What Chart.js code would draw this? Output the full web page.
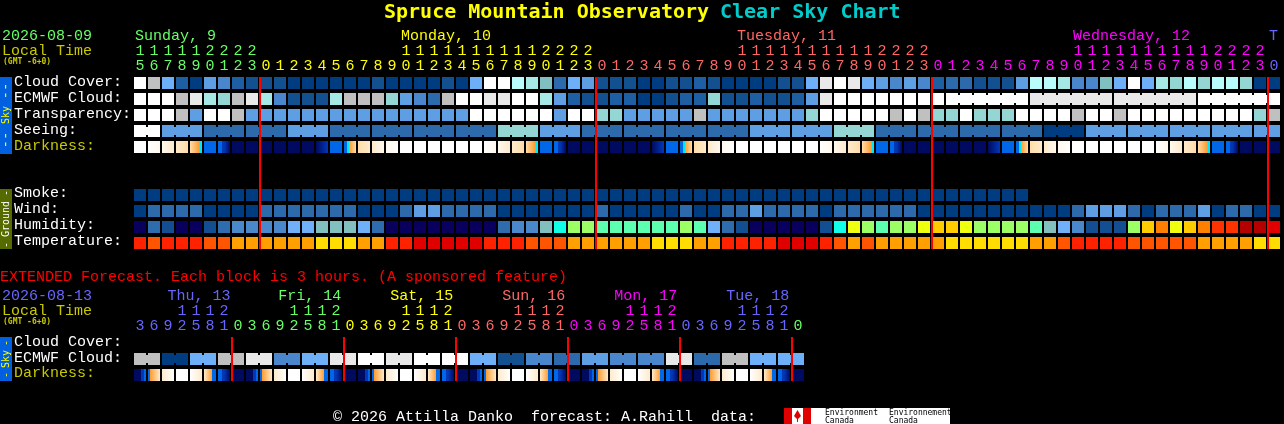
<!DOCTYPE html>
<html>
<head>
<meta charset="utf-8">
<title>Spruce Mountain Observatory Clear Sky Chart</title>
<style>
  html, body { margin: 0; padding: 0; background: #000; overflow: hidden; }
  canvas { display: block; }
</style>
<script src="https://cdn.jsdelivr.net/npm/chart.js@4"></script>
</head>
<body>
<canvas id="csk" width="1284" height="424"></canvas>
<script>
// hourly forecast, first column is 15:00 on the 9th
const tensRow = ["1","1","1","1","1","2","2","2","2","","","","","","","","","","","1","1","1","1","1","1","1","1","1","1","2","2","2","2","","","","","","","","","","","1","1","1","1","1","1","1","1","1","1","2","2","2","2","","","","","","","","","","","1","1","1","1","1","1","1","1","1","1","2","2","2","2",""];
const unitsRow = ["5","6","7","8","9","0","1","2","3","0","1","2","3","4","5","6","7","8","9","0","1","2","3","4","5","6","7","8","9","0","1","2","3","0","1","2","3","4","5","6","7","8","9","0","1","2","3","4","5","6","7","8","9","0","1","2","3","0","1","2","3","4","5","6","7","8","9","0","1","2","3","4","5","6","7","8","9","0","1","2","3","0"];
const dayStarts = [0, 9, 33, 57, 81];
const dayColors = ["#66ff66", "#ffff00", "#ff6666", "#ff00ff", "#6666ff"];
const dayNames = ["Sunday, 9", "Monday, 10", "Tuesday, 11", "Wednesday, 12", "T"];
const dayLabelCols = [0, 19, 43, 67, 81];

const cloudCover = [13,11,6,2,0,5,4,2,1, 1,1,0,0,0,0,0,0,1,0,0,0, 0,1,0,6,13,13,10,9,7,3,6,5, 1,1,1,0,0,1,1,2,1,0,0,0,0,1,1, 6,12,13,12, 6,5,4,5,4,2,3,3,1,1,1,5,10,10,9,4,4,7,6,13,6,9,8,10,8,10,10,8,0,0];
const ecmwfCloud = [13,13,13,11,12,9,8,11,12, 9,4,1,1,1,9,11,11,11,8,5,4, 3,11,13,13,12,12,13,13,9,5,2,1, 1,2,2,0,0,1,2,2,8,1,1,2,1,1,2, 5,12,13,13, 13,13,13,13,13,13, 13,13,13,13,13,13, 12,12,12,12,12,12, 12,12,12,12,12,12, 13,13,13,13,13,13];
const transparency = [13,13,13,11,5,13,13,11,5, 5,5,5,5,5,5,5,5,5,5,5,5, 5,5,5,13,13,13,13,13,13,5,13,13, 8,8,5,5,5,5,5,11,5,5,5,5,5,5,5, 8,13,13,13, 13,13,11,13,11,8,8,13,8,8,8,13,13,13,13,11,13,13,11,13,13,13,13,13,13,13,13,13,8,11];
const seeing = [13,13, 5,5,5, 3,3,3, 3,3,3, 5,5,5, 3,3,3, 3,3,3, 3,3,3, 3,3,3, 8,8,8, 5,5,5, 3,3,3, 3,3,3, 3,3,3, 3,3,3, 5,5,5, 5,5,5, 8,8,8, 3,3,3, 3,3,3, 3,3,3, 3,3,3, 0,0,0, 5,5,5, 5,5,5, 5,5,5, 5,5,5, 5,5];
const darkStart = [0,0,1,2,3,6,6,8,8,8,8,8,8,8,6,6,3,2,1,0,0,0,0,0,0, 0,1,2,3,6,6,8,8,8,8,8,8,8,6,6,3,2,1,0,0,0,0,0,0, 0,1,2,3,6,6,8,8,8,8,8,8,8,6,6,3,2,1,0,0,0,0,0,0, 0,1,2,3,6,6,8,8,8];
const darkEnd = [0,1,2,3,5,6,8,8,8,8,8,8,8,7,6,3,2,1,0,0,0,0,0,0,0, 1,2,3,5,6,8,8,8,8,8,8,8,7,6,3,2,1,0,0,0,0,0,0,0, 1,2,3,5,6,8,8,8,8,8,8,8,7,6,3,2,1,0,0,0,0,0,0,0, 1,2,3,5,6,8,8,8,8];
const smoke = [0,0,0,0,0,0,0,0,0,0,0,0,0,0,0,0,0,0,0,0,0,0,0,0,0,0,0,0,0,0,0,0,0,0,0,0,0,0,0,0,0,0,0,0,0,0,0,0,0,0,0,0,0,0,0,0,0,0,0,0,0,0,0,0];
const wind = [0,3,3,3,3,0,0,0,0,3,3,3,3,3,3,3,0,0,0,3,5,5, 3,3,3,3,0,0,0,0,0,0,0,3,0,0,0,0,0,3,0,0,3,3,5,3,3,3,3,0,3,3, 3,3,3,3,0,0,0,0,0,0,0,0,0,0,0,3,5,5,5,3,0,3,3,3,5,0,3,3,0,0];
const humidity = [0,2,1,0,0,1,2,3,3,3,3,5,5,6,6,6,5,2,0,0,0,0, 0,0,0,0,2,3,3,6,7,9,9,8,8,8,8,8,8,9,8,5,2,1,0,0,0,0,0,1,7,10, 9,8,9,9,10,11,11,10,9,9,9,9,8,6,5,3,1,1,1,9,11,12,10,11,12,13,13,15,15,14];
const temperature = [1,2,1,1,1,2,2,3,3,3,3,3,3,4,4,4,3,3,1,1,0,0, 0,0,0,1,1,1,2,2,2,3,3,3,3,3,3,4,4,4,3,3,1,1,1,1,0,0,0,1,2,3, 2,3,3,3,3,3,4,4,4,4,4,4,3,3,2,1,1,1,1,2,2,2,2,2,3,3,3,3,4,4];

// cells that belong to one forecast block get joined
const seeingBlocks = [2,3,3,3,3,3,3,3,3,3,3,3,3,3,3,3,3,3,3,3,3,3,3,3,3,3,3,2];
const ecmwfBlocks = [1,1,1,1,1,1,1,1,1,1,1,1,1,1,1,1,1,1,1,1,1,1,1,1,1,1,1,1,1,1,1,1,1,1,1,1,1,1,1,1,1,1,1,1,1,1,1,1,1,1,1,1,1,1,1,1,1,1,6,6,6,6];
const midnights = [9, 33, 57, 81];

// extended forecast, 3 hour blocks, first column is 03:00 on the 13th
const extTens = ["","","","1","1","1","2","","","","","1","1","1","2","","","","","1","1","1","2","","","","","1","1","1","2","","","","","1","1","1","2","","","","","1","1","1","2",""];
const extUnits = ["3","6","9","2","5","8","1","0","3","6","9","2","5","8","1","0","3","6","9","2","5","8","1","0","3","6","9","2","5","8","1","0","3","6","9","2","5","8","1","0","3","6","9","2","5","8","1","0"];
const extDayStarts = [0, 7, 15, 23, 31, 39, 47];
const extDayColors = ["#6666ff", "#66ff66", "#ffff00", "#ff6666", "#ff00ff", "#6666ff", "#66ff66"];
const extDayNames = ["Thu, 13", "Fri, 14", "Sat, 15", "Sun, 16", "Mon, 17", "Tue, 18"];
const extDayCols = [2.4, 10.3, 18.3, 26.3, 34.3, 42.3];
const extEcmwf = [11,11,0,0,6,6,11,11,12,12,4,4,6,6,12,12,13,13,12,12,13,13,13,13,6,6,1,1,4,4,3,3,5,5,4,4,4,4,12,12,3,3,11,11,6,6,6,6];
const extDarkStart = [8,6,2,0,0,2,6,8, 8,6,2,0,0,2,6,8, 8,6,2,0,0,2,6,8, 8,6,2,0,0,2,6,8, 8,6,2,0,0,2,6,8, 8,6,2,0,0,2,6,8];
const extDarkEnd = [6,2,0,0,2,6,8,8, 6,2,0,0,2,6,8,8, 6,2,0,0,2,6,8,8, 6,2,0,0,2,6,8,8, 6,2,0,0,2,6,8,8, 6,2,0,0,2,6,8,8];
const extBlocks = [2,2,2,2,2,2,2,2,2,2,2,2,2,2,2,2,2,2,2,2,2,2,2,2];
const extMidnights = [7, 15, 23, 31, 39, 47];

const skyLabels = ["Cloud Cover:", "ECMWF Cloud:", "Transparency:", "Seeing:", "Darkness:"];
const groundLabels = ["Smoke:", "Wind:", "Humidity:", "Temperature:"];
const extLabels = ["Cloud Cover:", "ECMWF Cloud:", "Darkness:"];

const cloudColors = ["#003c80","#12508f","#1e5fa3","#2c6aac","#4986cc","#5e9ee2","#6db0f8","#80c0c0","#93d6d3","#a6e8e6","#b8fcfc","#c0c0c0","#e9e9e9","#ffffff"];
const humidityColors = ["#08005c","#134e92","#2f6cae","#4a88cc","#5e9fe3","#70b0f8","#82bfbf","#11ffe8","#5cffb0","#9cff66","#eeff10","#ffcc00","#ff8000","#ff3300","#e00000","#b50000"];
const tempColors = ["#e00000","#ff2200","#ff5500","#ffa000","#ffdd00"];
const darkColors = ["#ffffff","#fff8ee","#ffeacc","#ffdda8","#ff9a2a","#00e8ff","#0068e8","#0038b8","#000a60","#000050"];
const darkStops = {
  "3,5": [[0,3],[.8,4],[.8,5],[1,5]],
  "6,8": [[0,6],[.33,6],[.33,7],[.5,7],[1,8]],
  "6,3": [[0,6],[.25,6],[.25,5],[.42,5],[.42,4],[1,3]],
  "8,6": [[0,8],[.6,8],[.6,7],[.8,7],[.8,6],[1,6]],
  "6,2": [[0,6],[.15,6],[.15,4],[1,2]],
  "2,6": [[0,2],[.7,4],[.7,6],[1,6]]
};

const monoFont = '"Liberation Mono", monospace';
const blockFont = '"DejaVu Sans Mono", monospace';
const cellW = 12 / 14;

function cellDataset(values, row, colors) {
  return {
    data: values.map((v, i) => ({ x: i + cellW / 2, y: [row, row + 0.75] })),
    backgroundColor: values.map((v) => colors[v]),
    barThickness: 12,
    order: 2
  };
}

function bridgeDataset(values, row, colors, blocks) {
  const points = [];
  const fills = [];
  let col = 0;
  blocks.forEach((size) => {
    for (let k = 0; k < size - 1; k++) {
      points.push({ x: col + k + 13 / 14, y: [row + 2 / 16, row + 10 / 16] });
      fills.push(colors[values[col + k]]);
    }
    col += size;
  });
  return { data: points, backgroundColor: fills, barThickness: 2, order: 2 };
}

function darkDataset(starts, ends, row) {
  return {
    data: starts.map((v, i) => ({ x: i + cellW / 2, y: [row, row + 0.75] })),
    backgroundColor: function (c) {
      const i = c.dataIndex;
      const xs = c.chart.scales.x;
      const x0 = xs.getPixelForValue(i);
      // scales are not laid out yet on the first pass
      if (!isFinite(x0)) return darkColors[starts[i]];
      const g = c.chart.ctx.createLinearGradient(x0, 0, xs.getPixelForValue(i + cellW), 0);
      const stops = darkStops[starts[i] + "," + ends[i]] || [[0, starts[i]], [1, ends[i]]];
      stops.forEach((s) => g.addColorStop(s[0], darkColors[s[1]]));
      return g;
    },
    barThickness: 12,
    order: 2
  };
}

function midnightDataset(cols, top, bottom) {
  return {
    data: cols.map((c) => ({ x: c, y: [top, bottom] })),
    backgroundColor: "#ff0000",
    barThickness: 2,
    order: 1
  };
}

function colorForCol(i, starts, colors) {
  let c = colors[0];
  starts.forEach((s, k) => { if (i >= s) c = colors[k]; });
  return c;
}

function text(ctx, str, x, y, color, font) {
  ctx.font = font || "15px " + monoFont;
  ctx.fillStyle = color;
  ctx.fillText(str, x, y);
}

function sideText(ctx, str, yCenter, color, font) {
  ctx.save();
  ctx.translate(6, yCenter);
  ctx.rotate(-Math.PI / 2);
  ctx.textAlign = "center";
  ctx.textBaseline = "middle";
  ctx.font = font;
  ctx.fillStyle = color;
  ctx.fillText(str, 0, 0);
  ctx.restore();
}

const textPlugin = {
  id: "cskText",
  afterDatasetsDraw(chart) {
    const ctx = chart.ctx;
    const xs = chart.scales.x;
    ctx.save();
    ctx.textBaseline = "alphabetic";

    // title
    text(ctx, "Spruce Mountain Observatory", 384, 18, "#ffff00", "bold 20px " + blockFont);
    text(ctx, "Clear Sky Chart", 720, 18, "#00cccc", "bold 20px " + blockFont);

    // main header
    text(ctx, "2026-08-09", 2, 40, "#66ff66");
    text(ctx, "Local Time", 2, 55, "#c8c800");
    text(ctx, "(GMT -6+0)", 3, 64, "#c8c800", "bold 8px " + blockFont);
    dayNames.forEach((name, k) => {
      text(ctx, name, xs.getPixelForValue(dayLabelCols[k]) + 1, 40, dayColors[k]);
    });
    ctx.textAlign = "center";
    unitsRow.forEach((u, i) => {
      const x = xs.getPixelForValue(i + cellW / 2);
      const c = colorForCol(i, dayStarts, dayColors);
      text(ctx, tensRow[i], x, 55, c);
      text(ctx, u, x, 70, c);
    });
    ctx.textAlign = "left";

    skyLabels.forEach((l, k) => {
      text(ctx, l, 14, 86 + 16 * k, k === 4 ? "#c8c800" : "#ffffff");
    });
    groundLabels.forEach((l, k) => {
      text(ctx, l, 14, 197 + 16 * k, "#ffffff");
    });

    // extended header
    text(ctx, "EXTENDED Forecast. Each block is 3 hours. (A sponsored feature)", 0, 281, "#ff0000");
    text(ctx, "2026-08-13", 2, 300, "#6666ff");
    text(ctx, "Local Time", 2, 315, "#c8c800");
    text(ctx, "(GMT -6+0)", 3, 324, "#c8c800", "bold 8px " + blockFont);
    extDayNames.forEach((name, k) => {
      text(ctx, name, xs.getPixelForValue(extDayCols[k]), 300, colorForCol(extDayStarts[k], extDayStarts, extDayColors));
    });
    ctx.textAlign = "center";
    extUnits.forEach((u, i) => {
      const x = xs.getPixelForValue(i + cellW / 2);
      const c = colorForCol(i, extDayStarts, extDayColors);
      text(ctx, extTens[i], x, 315, c);
      text(ctx, u, x, 330, c);
    });
    ctx.textAlign = "left";
    extLabels.forEach((l, k) => {
      text(ctx, l, 14, 346 + 15.5 * k, k === 2 ? "#c8c800" : "#ffffff");
    });

    // side bars
    ctx.fillStyle = "#0060e0";
    ctx.fillRect(0, 77, 12, 77);
    ctx.fillRect(0, 337, 12, 44);
    ctx.fillStyle = "#556b00";
    ctx.fillRect(0, 189, 12, 60);
    const sideFont = "10px " + blockFont;
    sideText(ctx, "--", 91, "#ffff00", "14px " + blockFont);
    sideText(ctx, "Sky", 115, "#ffff00", sideFont);
    sideText(ctx, "--", 140, "#ffff00", "14px " + blockFont);
    sideText(ctx, "-", 193, "#ffffff", sideFont);
    sideText(ctx, "Ground", 219, "#ffffff", sideFont);
    sideText(ctx, "-", 245, "#ffffff", sideFont);
    sideText(ctx, "-", 343, "#ffff00", sideFont);
    sideText(ctx, "Sky", 359, "#ffff00", sideFont);
    sideText(ctx, "-", 375, "#ffff00", sideFont);

    // footer and logo
    text(ctx, "\u00a9 2026 Attilla Danko  forecast: A.Rahill  data:", 333, 421, "#ffffff");
    ctx.fillStyle = "#ffffff";
    ctx.fillRect(784, 408, 166, 16);
    ctx.fillStyle = "#e00000";
    ctx.fillRect(784, 408, 8, 16);
    ctx.fillRect(803, 408, 8, 16);
    ctx.beginPath();
    ctx.moveTo(797.5, 410);
    ctx.lineTo(801, 416);
    ctx.lineTo(798, 419);
    ctx.lineTo(798, 422);
    ctx.lineTo(797, 422);
    ctx.lineTo(797, 419);
    ctx.lineTo(794, 416);
    ctx.closePath();
    ctx.fill();
    const logoFont = "8px " + blockFont;
    text(ctx, "Environment", 825, 415, "#000000", logoFont);
    text(ctx, "Canada", 825, 423, "#000000", logoFont);
    text(ctx, "Environnement", 889, 415, "#000000", logoFont);
    text(ctx, "Canada", 889, 423, "#000000", logoFont);
    ctx.restore();
  }
};

const row = { cloud: 0, ecmwf: 1, transp: 2, seeing: 3, dark: 4, smoke: 7, wind: 8, humid: 9, temp: 10, extEcmwf: 17.25, extDark: 18.25 };

new Chart(document.getElementById("csk"), {
  type: "bar",
  data: {
    datasets: [
      cellDataset(cloudCover, row.cloud, cloudColors),
      cellDataset(ecmwfCloud, row.ecmwf, cloudColors),
      bridgeDataset(ecmwfCloud, row.ecmwf, cloudColors, ecmwfBlocks),
      cellDataset(transparency, row.transp, cloudColors),
      cellDataset(seeing, row.seeing, cloudColors),
      bridgeDataset(seeing, row.seeing, cloudColors, seeingBlocks),
      darkDataset(darkStart, darkEnd, row.dark),
      cellDataset(smoke, row.smoke, cloudColors),
      cellDataset(wind, row.wind, cloudColors),
      cellDataset(humidity, row.humid, humidityColors),
      cellDataset(temperature, row.temp, tempColors),
      midnightDataset(midnights, 0, 10.75),
      cellDataset(extEcmwf, row.extEcmwf, cloudColors),
      bridgeDataset(extEcmwf, row.extEcmwf, cloudColors, extBlocks),
      darkDataset(extDarkStart, extDarkEnd, row.extDark),
      midnightDataset(extMidnights, 16.25, 19)
    ]
  },
  options: {
    responsive: false,
    animation: false,
    events: [],
    devicePixelRatio: 1,
    layout: { padding: 0 },
    datasets: { bar: { grouped: false, inflateAmount: 0, borderWidth: 0 } },
    plugins: { legend: { display: false }, tooltip: { enabled: false } },
    scales: {
      x: { type: "linear", min: -134 / 14, max: (1284 - 134) / 14, offset: false, display: false },
      y: { type: "linear", min: -77 / 16, max: (424 - 77) / 16, reverse: true, display: false }
    }
  },
  plugins: [textPlugin]
});
</script>
</body>
</html>
